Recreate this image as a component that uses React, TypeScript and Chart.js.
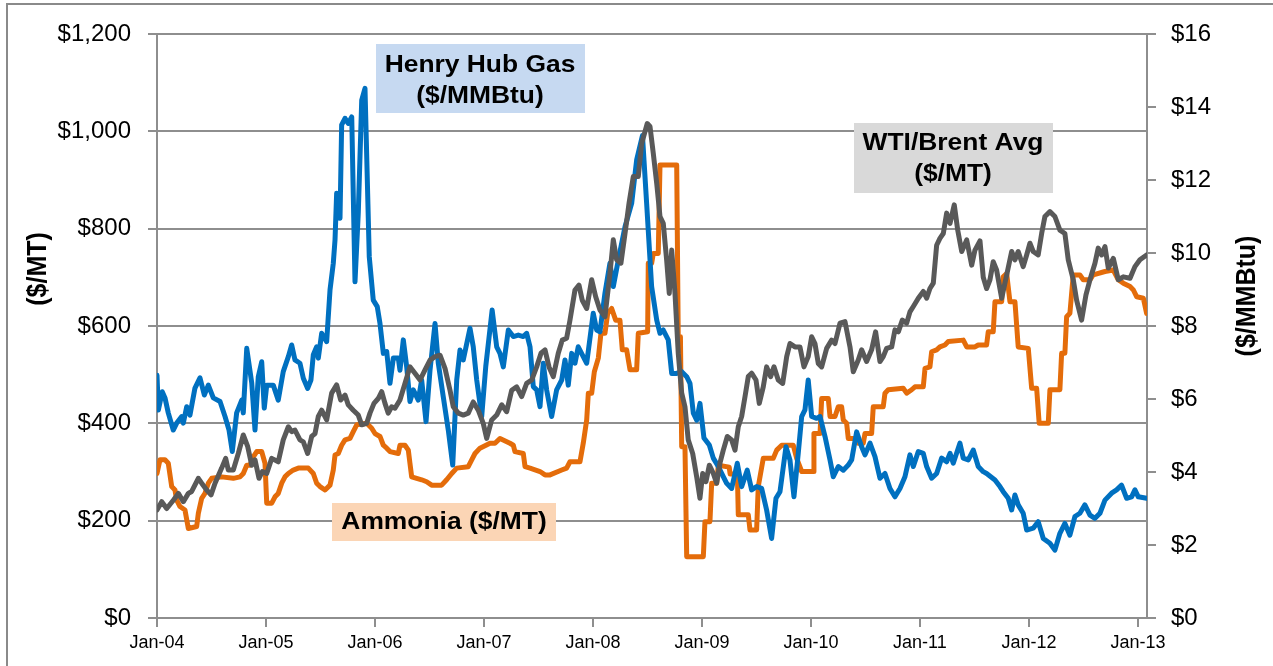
import React, { useEffect, useRef } from "react";
import { Chart, registerables } from "chart.js";

Chart.register(...registerables);

// x = months since Jan-2004
const xTickLabels = ["Jan-04", "Jan-05", "Jan-06", "Jan-07", "Jan-08", "Jan-09", "Jan-10", "Jan-11", "Jan-12", "Jan-13"];
const leftTickLabels = ["$0", "$200", "$400", "$600", "$800", "$1,000", "$1,200"];
const rightTickLabels = ["$0", "$2", "$4", "$6", "$8", "$10", "$12", "$14", "$16"];

// Henry Hub Gas ($/MMBtu) - right axis
const henryHub: number[][] = [
  [0, 6.65], [0.15, 5.7], [0.58, 6.2], [0.88, 6.03], [1.24, 5.62], [1.79, 5.15], [2.17, 5.34], [2.72, 5.52], [2.9, 5.34], [3.27, 5.79], [3.63, 5.56], [4.18, 6.3], [4.73, 6.58], [5.21, 6.11], [5.65, 6.38], [6.2, 6.03], [6.94, 5.93], [7.49, 5.52], [7.93, 5.15], [8.29, 4.56], [8.77, 5.62], [9.33, 5.97], [9.5, 5.62], [9.88, 7.39], [10.43, 6.44], [10.79, 5.15], [11.15, 6.61], [11.53, 7.02], [11.81, 5.75], [12.08, 6.38], [12.8, 6.38], [13.35, 5.97], [13.9, 6.75], [14.46, 7.16], [14.83, 7.48], [15.19, 7.07], [15.74, 6.98], [16.11, 6.57], [16.59, 6.29], [16.95, 6.52], [17.21, 7.21], [17.58, 7.43], [17.76, 7.12], [18.13, 7.8], [18.68, 7.57], [19.05, 8.99], [19.41, 9.72], [19.6, 10.36], [19.78, 11.64], [20.15, 10.95], [20.33, 13.51], [20.7, 13.69], [21.06, 13.55], [21.44, 13.73], [21.8, 9.21], [22.16, 11.09], [22.54, 14.19], [22.9, 14.51], [23.37, 9.9], [23.81, 8.71], [24.25, 8.53], [24.55, 8.07], [24.92, 7.25], [25.29, 7.3], [25.65, 6.43], [26.02, 7.12], [26.57, 7.12], [26.75, 6.79], [27.12, 7.62], [27.49, 6.88], [27.85, 5.93], [28.22, 6.25], [28.77, 5.97], [29.14, 6.52], [29.62, 5.38], [30.06, 6.79], [30.61, 8.07], [30.97, 6.98], [31.52, 6.06], [32.07, 5.15], [32.56, 4.19], [33.0, 6.52], [33.36, 7.34], [33.72, 7.07], [34.46, 7.94], [34.82, 7.43], [35.2, 6.52], [35.75, 5.52], [36.2, 6.9], [36.9, 8.44], [37.4, 7.43], [37.76, 7.25], [38.13, 6.88], [38.68, 7.89], [39.23, 7.71], [39.78, 7.75], [40.33, 7.71], [40.7, 7.8], [41.07, 7.43], [41.43, 6.34], [41.8, 6.25], [42.17, 5.79], [42.53, 6.98], [42.9, 6.25], [43.45, 5.52], [44.0, 6.25], [44.56, 6.52], [44.92, 7.07], [45.28, 6.38], [45.66, 7.25], [46.02, 6.98], [46.38, 7.43], [46.93, 7.16], [47.31, 6.98], [48.03, 8.35], [48.41, 7.89], [48.77, 7.84], [49.32, 8.9], [49.87, 9.72], [50.24, 9.08], [50.79, 9.81], [51.53, 10.72], [52.26, 11.36], [52.81, 12.55], [53.45, 13.22], [53.91, 11.36], [54.46, 9.08], [55.02, 8.16], [55.38, 7.8], [55.74, 7.89], [56.29, 7.62], [56.67, 6.7], [57.22, 6.7], [57.77, 6.75], [58.32, 6.61], [58.68, 6.43], [59.05, 5.61], [59.42, 5.42], [59.78, 5.88], [60.22, 4.93], [60.81, 4.74], [61.25, 4.38], [61.8, 4.15], [62.17, 3.96], [62.72, 3.69], [63.27, 3.55], [63.89, 4.24], [64.37, 3.6], [64.99, 4.05], [65.47, 3.51], [66.02, 3.6], [66.57, 3.55], [67.12, 2.96], [67.67, 2.18], [68.15, 3.28], [68.59, 3.46], [69.25, 4.69], [69.69, 4.33], [70.13, 3.32], [70.6, 4.51], [70.98, 5.52], [71.34, 5.7], [71.7, 6.52], [72.08, 5.52], [72.63, 5.47], [73.0, 5.52], [73.55, 4.97], [74.1, 4.33], [74.46, 3.87], [75.01, 4.15], [75.56, 4.05], [76.11, 4.19], [76.48, 4.33], [77.03, 5.1], [77.58, 4.69], [77.95, 4.47], [78.5, 4.79], [79.05, 4.42], [79.6, 3.83], [80.15, 3.96], [80.7, 3.55], [81.25, 3.32], [81.8, 3.55], [82.35, 3.87], [82.9, 4.47], [83.27, 4.15], [83.82, 4.56], [84.37, 4.51], [84.74, 4.15], [85.29, 3.83], [85.84, 3.96], [86.39, 4.38], [86.94, 4.28], [87.31, 4.51], [87.67, 4.24], [88.4, 4.79], [88.77, 4.38], [89.32, 4.33], [89.87, 4.6], [90.42, 4.15], [90.97, 4.01], [91.34, 3.96], [92.26, 3.78], [92.81, 3.6], [93.17, 3.46], [93.72, 3.28], [94.1, 2.96], [94.46, 3.37], [94.82, 3.1], [95.37, 2.87], [95.75, 2.41], [96.47, 2.46], [97.02, 2.64], [97.58, 2.18], [98.31, 2.05], [98.86, 1.86], [99.41, 2.32], [99.96, 2.59], [100.51, 2.27], [101.06, 2.78], [101.61, 2.87], [102.16, 3.1], [102.72, 2.82], [103.27, 2.73], [103.82, 2.87], [104.37, 3.23], [105.1, 3.42], [105.65, 3.51], [106.2, 3.64], [106.76, 3.28], [107.31, 3.32], [107.67, 3.51], [108.04, 3.32], [108.96, 3.28],
];

// WTI/Brent Avg ($/MT) - left axis
const wtiBrent: number[][] = [
  [0, 222], [0.52, 239], [1.07, 225], [1.8, 242], [2.35, 256], [2.9, 239], [3.45, 256], [3.82, 260], [4.55, 287], [4.92, 277], [5.47, 263], [5.95, 253], [6.39, 277], [7.12, 308], [7.56, 328], [7.85, 304], [8.4, 304], [8.95, 338], [9.5, 376], [9.99, 352], [10.43, 314], [10.79, 325], [11.23, 287], [11.6, 301], [12.08, 297], [12.63, 328], [13.35, 321], [13.9, 366], [14.46, 393], [14.83, 383], [15.19, 386], [15.74, 366], [16.11, 362], [16.59, 338], [17.03, 373], [17.4, 379], [17.76, 414], [18.13, 427], [18.68, 407], [19.23, 462], [19.78, 479], [20.22, 448], [20.7, 458], [21.06, 438], [21.61, 427], [22.16, 417], [22.54, 397], [23.09, 400], [23.45, 421], [23.89, 441], [24.36, 451], [24.74, 465], [25.1, 441], [25.46, 421], [25.84, 434], [26.2, 431], [26.75, 448], [27.3, 482], [27.85, 516], [28.4, 503], [28.96, 489], [29.51, 510], [30.06, 530], [30.61, 537], [31.16, 540], [31.71, 513], [32.26, 468], [32.62, 434], [33.17, 421], [33.72, 417], [34.27, 421], [34.82, 444], [35.37, 427], [35.92, 400], [36.3, 369], [36.85, 407], [37.4, 417], [37.95, 438], [38.5, 424], [39.05, 468], [39.6, 475], [40.15, 455], [40.7, 482], [41.25, 489], [41.8, 516], [42.28, 544], [42.72, 551], [43.16, 516], [43.63, 496], [44.18, 544], [44.62, 571], [45.1, 575], [45.47, 612], [46.02, 674], [46.46, 684], [46.82, 653], [47.31, 636], [47.86, 695], [48.3, 660], [48.77, 633], [49.32, 619], [49.87, 708], [50.24, 777], [50.61, 736], [51.08, 729], [51.53, 790], [51.97, 852], [52.44, 907], [52.99, 907], [53.36, 975], [53.98, 1016], [54.28, 1010], [54.64, 955], [55.02, 893], [55.38, 825], [55.74, 811], [56.11, 736], [56.4, 667], [56.67, 756], [57.03, 667], [57.39, 544], [57.77, 462], [58.13, 434], [58.49, 366], [58.98, 338], [59.42, 290], [59.78, 246], [60.08, 297], [60.44, 280], [60.81, 314], [61.25, 297], [61.62, 277], [61.98, 318], [62.35, 345], [62.79, 373], [63.27, 366], [63.64, 345], [64.0, 393], [64.37, 414], [64.74, 455], [65.1, 496], [65.47, 503], [65.95, 489], [66.31, 441], [66.75, 475], [67.12, 516], [67.56, 496], [67.93, 516], [68.4, 489], [68.89, 482], [69.33, 537], [69.69, 564], [70.24, 557], [70.79, 557], [71.23, 516], [71.7, 537], [72.08, 578], [72.44, 564], [72.81, 523], [73.18, 516], [73.73, 554], [74.28, 571], [74.65, 564], [75.2, 606], [75.75, 609], [76.3, 557], [76.66, 506], [77.21, 530], [77.58, 551], [78.13, 527], [78.68, 551], [79.12, 588], [79.6, 527], [79.96, 537], [80.33, 554], [80.89, 557], [81.25, 592], [81.62, 588], [82.06, 612], [82.54, 606], [82.9, 629], [83.27, 640], [83.82, 657], [84.37, 671], [84.74, 657], [85.1, 677], [85.47, 688], [85.84, 766], [86.2, 780], [86.57, 790], [86.94, 832], [87.31, 811], [87.78, 849], [88.16, 797], [88.6, 753], [89.15, 777], [89.7, 725], [90.06, 756], [90.61, 775], [90.97, 700], [91.34, 677], [91.71, 695], [92.07, 732], [92.44, 715], [93.0, 657], [93.55, 705], [94.1, 753], [94.46, 736], [94.82, 753], [95.37, 722], [95.75, 746], [96.11, 770], [96.47, 753], [97.02, 746], [97.4, 790], [97.76, 825], [98.31, 835], [98.86, 825], [99.41, 797], [99.96, 790], [100.33, 736], [100.88, 695], [101.25, 653], [101.8, 612], [102.28, 664], [102.72, 695], [103.27, 729], [103.63, 760], [104.0, 746], [104.37, 763], [104.74, 719], [105.29, 739], [105.84, 695], [106.39, 701], [107.13, 698], [107.67, 722], [108.22, 736], [108.96, 746],
];

// Ammonia ($/MT) - left axis
const ammonia: number[][] = [
  [0, 297], [0.33, 325], [0.88, 325], [1.24, 318], [1.62, 270], [1.98, 263], [2.17, 242], [2.53, 229], [3.08, 222], [3.45, 184], [4.37, 188], [4.55, 215], [4.92, 246], [5.28, 256], [5.65, 277], [6.02, 287], [7.12, 290], [8.4, 287], [9.14, 290], [9.5, 297], [9.88, 314], [10.24, 314], [10.6, 331], [10.98, 342], [11.53, 342], [11.89, 318], [12.08, 236], [12.63, 236], [12.99, 249], [13.35, 256], [13.73, 277], [14.09, 290], [14.46, 297], [15.0, 304], [15.56, 308], [16.66, 308], [17.21, 297], [17.58, 277], [17.95, 270], [18.5, 263], [19.05, 273], [19.41, 304], [19.6, 335], [19.96, 338], [20.33, 355], [20.7, 366], [21.25, 369], [21.61, 383], [21.99, 397], [23.09, 400], [23.64, 390], [24.0, 379], [24.55, 373], [24.92, 355], [25.29, 349], [25.65, 342], [26.57, 338], [26.75, 355], [27.3, 355], [27.67, 345], [27.85, 318], [28.04, 290], [29.14, 284], [29.69, 280], [30.24, 273], [31.34, 273], [31.89, 284], [32.45, 297], [33.0, 308], [34.27, 311], [34.65, 325], [35.01, 338], [35.56, 349], [36.66, 359], [37.21, 359], [37.76, 369], [38.86, 359], [39.23, 355], [39.41, 342], [40.33, 338], [40.52, 311], [41.07, 308], [42.17, 301], [42.72, 294], [43.27, 294], [44.56, 304], [45.1, 308], [45.47, 321], [46.57, 321], [46.93, 359], [47.31, 407], [47.49, 462], [47.86, 462], [48.15, 506], [48.59, 534], [48.88, 585], [49.32, 585], [49.62, 626], [50.06, 636], [50.5, 612], [50.97, 612], [51.23, 551], [51.71, 551], [52.08, 510], [52.81, 510], [52.99, 585], [54.02, 588], [54.09, 729], [54.46, 729], [54.64, 749], [55.19, 749], [55.38, 931], [57.22, 931], [57.39, 578], [57.63, 578], [57.77, 352], [58.13, 352], [58.32, 126], [60.15, 126], [60.33, 198], [60.88, 198], [61.07, 277], [61.62, 277], [61.8, 314], [63.0, 310], [63.1, 296], [63.9, 296], [64.0, 212], [65.1, 212], [65.29, 181], [66.02, 181], [66.2, 270], [66.75, 328], [67.85, 328], [68.23, 345], [68.78, 355], [70.05, 355], [70.43, 328], [70.98, 301], [72.26, 301], [72.33, 379], [73.0, 379], [73.18, 451], [73.91, 451], [74.1, 414], [74.65, 414], [75.01, 434], [75.38, 434], [75.56, 407], [75.93, 400], [76.11, 369], [76.85, 369], [77.21, 359], [77.76, 359], [77.95, 379], [78.68, 379], [78.86, 434], [79.96, 434], [80.15, 462], [80.51, 469], [82.16, 472], [82.54, 462], [83.09, 469], [83.45, 475], [84.37, 475], [84.56, 513], [85.1, 516], [85.29, 547], [85.84, 551], [86.2, 557], [86.75, 561], [87.12, 568], [88.77, 571], [89.15, 557], [90.06, 557], [90.42, 561], [91.34, 561], [91.52, 588], [92.07, 588], [92.26, 650], [93.0, 650], [93.17, 701], [93.55, 708], [93.91, 650], [94.46, 650], [94.82, 557], [95.93, 554], [96.3, 472], [96.85, 472], [97.13, 400], [98.13, 400], [98.31, 469], [99.41, 469], [99.6, 544], [99.96, 544], [100.15, 619], [100.51, 626], [100.88, 705], [101.61, 705], [101.98, 695], [102.72, 695], [103.08, 705], [104.37, 712], [105.29, 715], [105.84, 695], [106.39, 688], [107.13, 681], [107.5, 674], [107.87, 660], [108.6, 657], [108.96, 626],
];

const FONT = "'Liberation Sans', Arial, Helvetica, sans-serif";
const GRID = "#8e8e8e";

function drawStretched(ctx: CanvasRenderingContext2D, text: string, cx: number, cy: number, sx: number) {
  ctx.save();
  ctx.translate(cx, cy);
  ctx.scale(sx, 1);
  ctx.fillText(text, 0, 0);
  ctx.restore();
}

const decorPlugin = {
  id: "decor",
  beforeDraw(chart: any) {
    const ctx = chart.ctx as CanvasRenderingContext2D;
    ctx.save();
    ctx.fillStyle = "#ffffff";
    ctx.fillRect(0, 0, chart.width, chart.height);
    ctx.strokeStyle = "#8a8a8a";
    ctx.lineWidth = 2;
    ctx.strokeRect(7, 4, chart.width + 20, chart.height + 20);
    ctx.restore();
  },
  afterDraw(chart: any) {
    const ctx = chart.ctx as CanvasRenderingContext2D;
    ctx.save();
    // axis titles
    ctx.fillStyle = "#000";
    ctx.textAlign = "center";
    ctx.textBaseline = "middle";
    ctx.font = `bold 25px ${FONT}`;
    ctx.save();
    ctx.translate(39, 269);
    ctx.rotate(-Math.PI / 2);
    ctx.scale(1, 1.08);
    ctx.fillText("($/MT)", 0, 0);
    ctx.restore();
    ctx.save();
    ctx.translate(1248, 296);
    ctx.rotate(-Math.PI / 2);
    ctx.scale(1, 1.08);
    ctx.fillText("($/MMBtu)", 0, 0);
    ctx.restore();

    // annotation boxes
    ctx.font = `bold 24px ${FONT}`;
    ctx.fillStyle = "#C6D9F1";
    ctx.fillRect(376, 44, 209, 69);
    ctx.fillStyle = "#D9D9D9";
    ctx.fillRect(854, 123, 199, 70);
    ctx.fillStyle = "#FBD5B5";
    ctx.fillRect(332, 503, 224, 38);

    ctx.fillStyle = "#000";
    drawStretched(ctx, "Henry Hub Gas", 480, 65, 1.1);
    drawStretched(ctx, "($/MMBtu)", 480, 96, 1.1);
    drawStretched(ctx, "WTI/Brent Avg", 953, 143, 1.1);
    drawStretched(ctx, "($/MT)", 953, 174, 1.1);
    drawStretched(ctx, "Ammonia ($/MT)", 444, 522, 1.1);
    ctx.restore();
  },
};

export default function App() {
  const canvasRef = useRef<HTMLCanvasElement | null>(null);

  useEffect(() => {
    document.body.style.margin = "0";
    const canvas = canvasRef.current;
    if (!canvas) return;
    const toXY = (arr: number[][]) => arr.map(([x, y]) => ({ x, y }));
    const lineStyle = {
      borderWidth: 5,
      pointRadius: 0,
      tension: 0,
      fill: false,
      borderJoinStyle: "round" as const,
      borderCapStyle: "round" as const,
    };
    const chart = new Chart(canvas, {
      type: "line",
      data: {
        datasets: [
          { label: "WTI/Brent Avg ($/MT)", data: toXY(wtiBrent), borderColor: "#595959", yAxisID: "y", ...lineStyle },
          { label: "Henry Hub Gas ($/MMBtu)", data: toXY(henryHub), borderColor: "#0070C0", yAxisID: "y1", ...lineStyle },
          { label: "Ammonia ($/MT)", data: toXY(ammonia), borderColor: "#E46C0A", yAxisID: "y", ...lineStyle },
        ],
      },
      options: {
        responsive: false,
        animation: false,
        events: [],
        layout: { padding: { top: 34, left: 0, right: 0, bottom: 0 } },
        plugins: { legend: { display: false }, tooltip: { enabled: false }, title: { display: false } },
        scales: {
          x: {
            type: "linear",
            min: 0,
            max: 109,
            afterBuildTicks: (scale: any) => {
              scale.ticks = xTickLabels.map((_, i) => ({ value: i * 12 }));
            },
            afterFit: (scale: any) => {
              scale.height = 48;
            },
            ticks: {
              autoSkip: false,
              maxRotation: 0,
              minRotation: 0,
              padding: 5,
              color: "#000",
              font: { family: FONT, size: 18 },
              callback: (value: any) => xTickLabels[Math.round(Number(value) / 12)] ?? "",
            },
            grid: { drawOnChartArea: false, drawTicks: true, tickLength: 9, color: GRID, lineWidth: 2 },
            border: { display: true, color: GRID, width: 2 },
          },
          y: {
            position: "left",
            min: 0,
            max: 1200,
            afterFit: (scale: any) => {
              scale.width = 157;
            },
            ticks: {
              stepSize: 200,
              padding: 17,
              color: "#000",
              font: { family: FONT, size: 24 },
              callback: (_v: any, index: number) => leftTickLabels[index],
            },
            grid: { color: GRID, lineWidth: 2, tickLength: 9 },
            border: { display: true, color: GRID, width: 2 },
          },
          y1: {
            position: "right",
            min: 0,
            max: 16,
            afterFit: (scale: any) => {
              scale.width = 126;
            },
            ticks: {
              stepSize: 2,
              padding: 15,
              color: "#000",
              font: { family: FONT, size: 24 },
              callback: (_v: any, index: number) => rightTickLabels[index],
            },
            grid: { drawOnChartArea: false, color: GRID, lineWidth: 2, tickLength: 9 },
            border: { display: true, color: GRID, width: 2 },
          },
        },
      } as any,
      plugins: [decorPlugin],
    });
    return () => chart.destroy();
  }, []);

  return (
    <div style={{ width: 1273, height: 666, position: "relative", overflow: "hidden" }}>
      <canvas ref={canvasRef} width={1273} height={666} style={{ display: "block" }} />
    </div>
  );
}
